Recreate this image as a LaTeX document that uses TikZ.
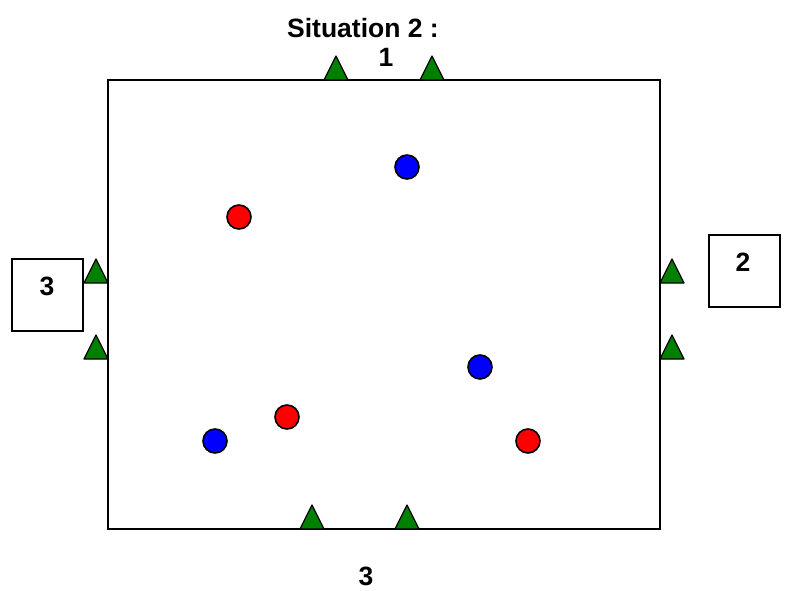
\documentclass[tikz,border=0pt]{standalone}
\usepackage{fontspec}
\setmainfont{Liberation Sans}
\definecolor{conegreen}{RGB}{0,128,0}
\tikzset{
  label/.style={font=\fontsize{26.5}{30}\selectfont\bfseries, inner sep=0pt},
  gatebox/.style={draw, line width=1.2pt, minimum width=71pt, minimum height=72pt, inner sep=0pt},
  cone/.style={fill=conegreen, draw=black, line width=1.2pt, line join=round},
  player/.style={draw=black, line width=1.6pt},
}
\begin{document}
\begin{tikzpicture}[x=1pt, y=-1pt]
        \useasboundingbox (0,0) rectangle (787,590);
        % Title and field
        \node[label] (title) at (363,28) {Situation 2 :};
        \draw[line width=1.3pt] (108,80) rectangle (660,529);
        \coordinate (field) at (384,304);

        % Side numbers
        \node[label] (top) at (386,57) {1};
        \node[label] (bottom) at (366,576) {3};

        % Boxes left and right
        \node[gatebox] (leftbox) at (47.5,295) {};
        \node[label] (leftnum) at (47,286) {3};
        \node[gatebox] (rightbox) at (744.5,271) {};
        \node[label] (rightnum) at (743,262) {2};

        % Cones on the top and bottom lines
        \foreach \x in {336,432}
          \draw[cone] (\x-12,80) -- (\x,56) -- (\x+12,80) -- cycle;
        \foreach \x in {312,407}
          \draw[cone] (\x-12,529) -- (\x,505) -- (\x+12,529) -- cycle;

        % Cones on the left and right lines
        \foreach \y in {283,359} {
          \draw[cone] (84,\y) -- (96,\y-24) -- (108,\y) -- cycle;
          \draw[cone] (660,\y) -- (672,\y-24) -- (684,\y) -- cycle;
        }

        % Blue players
        \foreach \x/\y in {407/167, 480/367, 215/441}
          \draw[player, fill=blue] (\x,\y) circle (12);

        % Red players
        \foreach \x/\y in {239/217, 287/417, 528/441}
          \draw[player, fill=red] (\x,\y) circle (12);
    \end{tikzpicture}
\end{document}
